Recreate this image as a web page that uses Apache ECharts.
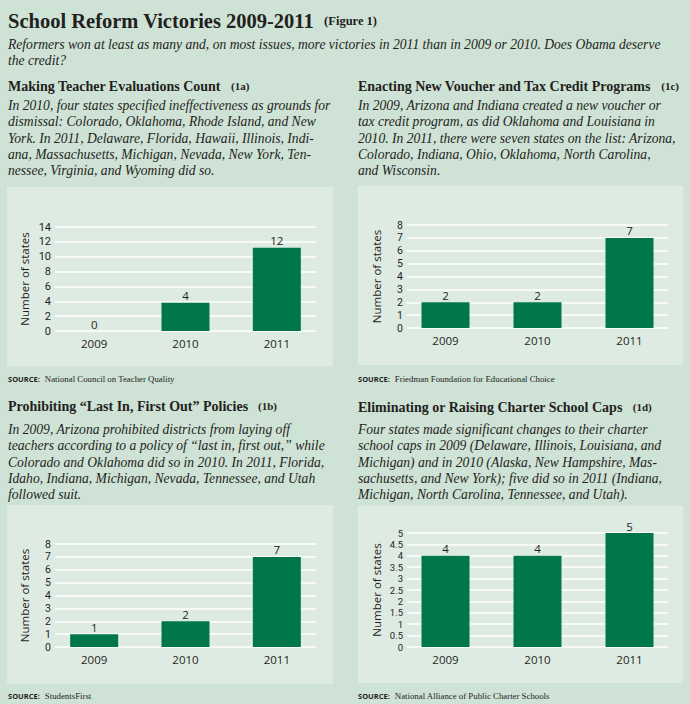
<!DOCTYPE html>
<html>
<head>
<meta charset="utf-8">
<script src="https://cdn.jsdelivr.net/npm/echarts@6.0.0/dist/echarts.min.js"></script>
<style>
html,body{margin:0;padding:0;background:#cfe2d6;}
#c{width:690px;height:704px;}
</style>
</head>
<body>
<div id="c"></div>
<script>
// ---- data ----
const years = ['2009', '2010', '2011'];
const evalValues = [0, 3.8, 11.2];      // bar heights as drawn in 1a
const evalLabels = [0, 4, 12];          // value labels printed in 1a
const voucherValues = [2, 2, 7];
const lifoValues = [1, 2, 7];
const charterValues = [4, 4, 5];
const evalTicks = [0, 2, 4, 6, 8, 10, 12, 14];
const voucherTicks = [0, 1, 2, 3, 4, 5, 6, 7, 8];
const lifoTicks = [0, 1, 2, 3, 4, 5, 6, 7, 8];
const charterTicks = [0, 0.5, 1, 1.5, 2, 2.5, 3, 3.5, 4, 4.5, 5];

const mainTitle = 'School Reform Victories 2009-2011';
const figureTag = '(Figure 1)';
const subtitleLines = [
  'Reformers won at least as many and, on most issues, more victories in 2011 than in 2009 or 2010. Does Obama deserve',
  'the credit?'
];
const panelHeads = ['Making Teacher Evaluations Count', 'Enacting New Voucher and Tax Credit Programs',
  'Prohibiting \u201cLast In, First Out\u201d Policies', 'Eliminating or Raising Charter School Caps'];
const panelTags = ['(1a)', '(1c)', '(1b)', '(1d)'];
const panelTexts = [
  ['In 2010, four states specified ineffectiveness as grounds for',
   'dismissal: Colorado, Oklahoma, Rhode Island, and New',
   'York. In 2011, Delaware, Florida, Hawaii, Illinois, Indi-',
   'ana, Massachusetts, Michigan, Nevada, New York, Ten-',
   'nessee, Virginia, and Wyoming did so.'],
  ['In 2009, Arizona and Indiana created a new voucher or',
   'tax credit program, as did Oklahoma and Louisiana in',
   '2010. In 2011, there were seven states on the list: Arizona,',
   'Colorado, Indiana, Ohio, Oklahoma, North Carolina,',
   'and Wisconsin.'],
  ['In 2009, Arizona prohibited districts from laying off',
   'teachers according to a policy of \u201clast in, first out,\u201d while',
   'Colorado and Oklahoma did so in 2010. In 2011, Florida,',
   'Idaho, Indiana, Michigan, Nevada, Tennessee, and Utah',
   'followed suit.'],
  ['Four states made significant changes to their charter',
   'school caps in 2009 (Delaware, Illinois, Louisiana, and',
   'Michigan) and in 2010 (Alaska, New Hampshire, Mas-',
   'sachusetts, and New York); five did so in 2011 (Indiana,',
   'Michigan, North Carolina, Tennessee, and Utah).']
];
const sources = ['National Council on Teacher Quality', 'Friedman Foundation for Educational Choice',
  'StudentsFirst', 'National Alliance of Public Charter Schools'];
const axisName = 'Number of states';

// ---- layout / style ----
const C = { outer: '#cfe2d6', panel: '#deebe3', bar: '#00774a', text: '#231f20', grid: '#ffffff' };
const SERIF = 'Liberation Serif';
const SANS = 'Open Sans';
const TICK = 'Roboto';

const panels = [
  { values: evalValues, labels: evalLabels, ticks: evalTicks, tickFont: 11,
    box: [7, 187, 326, 179], head: [8, 77], para: [8, 97], src: [8, 370],
    axisGrid: { left: 55, top: 227, width: 261, height: 104 }, barLeft: 48.5 },
  { values: voucherValues, labels: voucherValues, ticks: voucherTicks, tickFont: 10.5,
    box: [358, 186, 325, 179], head: [358, 77], para: [358, 97], src: [358, 370],
    axisGrid: { left: 407, top: 225, width: 261, height: 103 }, barLeft: 399.5 },
  { values: lifoValues, labels: lifoValues, ticks: lifoTicks, tickFont: 10.5,
    box: [7, 505, 326, 179], head: [8, 397], para: [8, 421], src: [8, 687],
    axisGrid: { left: 55, top: 544, width: 261, height: 103 }, barLeft: 48.5 },
  { values: charterValues, labels: charterValues, ticks: charterTicks, tickFont: 9.5,
    box: [358, 506, 325, 177], head: [358, 398], para: [358, 421], src: [358, 687],
    axisGrid: { left: 407, top: 533, width: 261, height: 114 }, barLeft: 399.5 }
];

const paraStyle = { fontFamily: SERIF, fontStyle: 'italic', fontWeight: 'normal', fontSize: 13.6, lineHeight: 16.4, color: C.text };

const title = [];
title.push({
  left: 8, top: 8, padding: 0,
  text: '{t|' + mainTitle + '}  {f|' + figureTag + '}',
  textStyle: { rich: {
    t: { fontFamily: SERIF, fontWeight: 'bold', fontSize: 20.5, color: C.text, lineHeight: 26 },
    f: { fontFamily: SERIF, fontWeight: 'bold', fontSize: 12.5, color: C.text, lineHeight: 26 }
  } }
});
title.push({
  left: 8, top: 36, padding: 0,
  text: subtitleLines.map(l => '{p|' + l + '}').join('\n'),
  textStyle: { rich: { p: paraStyle } }
});

const grid = [], xAxis = [], yAxis = [], series = [], graphic = [];
panels.forEach((p, i) => {
  graphic.push({ type: 'rect', z: -10, shape: { x: p.box[0], y: p.box[1], width: p.box[2], height: p.box[3] },
    style: { fill: C.panel } });
  title.push({
    left: p.head[0], top: p.head[1], padding: 0,
    text: '{h|' + panelHeads[i] + '}  {n|' + panelTags[i] + '}',
    textStyle: { rich: {
      h: { fontFamily: SERIF, fontWeight: 'bold', fontSize: 14, color: C.text, lineHeight: 18 },
      n: { fontFamily: SERIF, fontWeight: 'bold', fontSize: 11, color: C.text, lineHeight: 18 }
    } }
  });
  title.push({
    left: p.para[0], top: p.para[1], padding: 0,
    text: panelTexts[i].map(l => '{p|' + l + '}').join('\n'),
    textStyle: { rich: { p: paraStyle } }
  });
  title.push({
    left: p.src[0], top: p.src[1], padding: 0,
    text: '{s|SOURCE:} {v|' + sources[i] + '}',
    textStyle: { rich: {
      s: { fontFamily: SANS, fontWeight: 'bold', fontSize: 7.5, color: C.text, lineHeight: 12 },
      v: { fontFamily: SERIF, fontWeight: 'normal', fontSize: 8.8, color: C.text, lineHeight: 12 }
    } }
  });

  const tMin = p.ticks[0], tMax = p.ticks[p.ticks.length - 1], tInt = p.ticks[1] - p.ticks[0];
  const g = p.axisGrid;
  grid.push({ left: g.left, top: g.top, width: g.width, height: g.height, containLabel: false });
  grid.push({ left: p.barLeft, top: g.top, width: g.width + 2 * (g.left - p.barLeft), height: g.height, containLabel: false });
  const ga = 2 * i, gb = 2 * i + 1;
  xAxis.push({ gridIndex: ga, type: 'category', data: years, show: false });
  xAxis.push({ gridIndex: gb, type: 'category', data: years,
    axisLine: { show: false }, axisTick: { show: false },
    axisLabel: { color: C.text, fontFamily: SANS, fontSize: 11.5, margin: 6 } });
  yAxis.push({ gridIndex: ga, type: 'value', min: tMin, max: tMax, interval: tInt,
    axisLine: { show: false }, axisTick: { show: false },
    splitLine: { show: true, lineStyle: { color: C.grid, width: 1.5 } },
    axisLabel: { color: C.text, fontFamily: TICK, fontSize: p.tickFont, lineHeight: p.tickFont, margin: 4,
      hideOverlap: false, showMinLabel: true, showMaxLabel: true },
    name: axisName, nameLocation: 'middle', nameGap: 25, nameRotate: 90,
    nameTextStyle: { color: C.text, fontFamily: SANS, fontSize: 11.5 } });
  yAxis.push({ gridIndex: gb, type: 'value', min: tMin, max: tMax, interval: tInt, show: false, splitLine: { show: false } });
  series.push({
    type: 'bar', xAxisIndex: gb, yAxisIndex: gb, data: p.values, barWidth: 48, z: 3,
    itemStyle: { color: C.bar },
    label: { show: true, position: 'top', distance: 1, color: C.text, fontFamily: SANS, fontSize: 11.5,
      formatter: (d) => String(p.labels[d.dataIndex]) }
  });
});

const chart = echarts.init(document.getElementById('c'), null, { renderer: 'svg' });
chart.setOption({
  backgroundColor: C.outer,
  animation: false,
  title, grid, xAxis, yAxis, series, graphic
});
</script>
</body>
</html>
